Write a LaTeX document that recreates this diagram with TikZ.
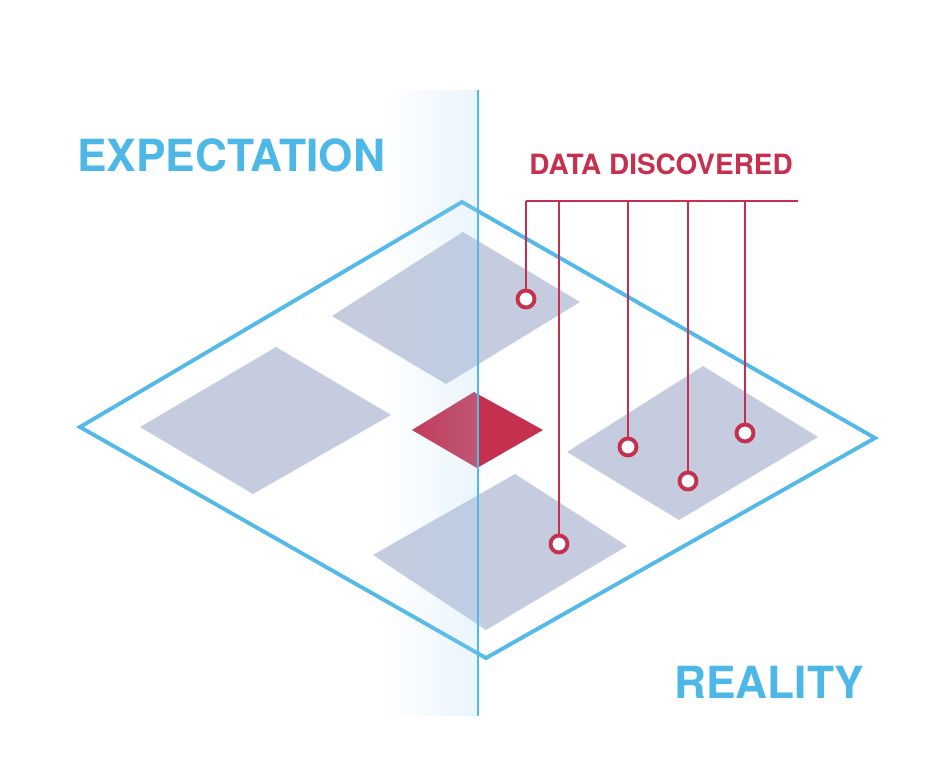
\documentclass[tikz,border=0pt]{standalone}
\usepackage{fontspec}
\newfontfamily\labelfont{TeX Gyre Heros}
\usepackage{tikz}
\usetikzlibrary{positioning, fadings}

\definecolor{skyline}{HTML}{52B9E8}
\definecolor{skytext}{HTML}{4DB8E8}
\definecolor{datared}{HTML}{C5304F}
\definecolor{tilegray}{HTML}{C5CCDF}
\definecolor{veilblue}{HTML}{A8D5F0}

\tikzfading[name=veilfade, left color=transparent!100, right color=transparent!0]

\begin{document}
\begin{tikzpicture}[
        x=0.02cm, y=-0.02cm,
        title/.style={inner sep=0pt, anchor=base west, text=skytext, font=\labelfont\bfseries\fontsize{25.2}{30}\selectfont},
        tile/.style={fill=tilegray},
        probe/.style={circle, draw=datared, line width=2.2pt, fill=white, minimum size=0.34cm, inner sep=0pt},
        wire/.style={draw=datared, line width=1.6pt}
        ]
        \useasboundingbox (0,0) rectangle (946,780);

        % board and tiles
        \draw[skyline, line width=2.2pt, line join=miter] (462,202) -- (875,438) -- (486,658) -- (80,427) -- cycle;
        \fill[tile] (463,232) -- (580,302) -- (446,384) -- (332,316) -- cycle;
        \fill[tile] (276,347) -- (391,415) -- (253,494) -- (140,427) -- cycle;
        \fill[tile] (515,474) -- (627,546) -- (486,630) -- (373,555) -- cycle;
        \fill[tile] (703,366) -- (818,437) -- (679,520) -- (567,452) -- cycle;
        \fill[datared] (474,392) -- (543,430) -- (477,468) -- (412,430) -- cycle;

        % labels
        \node[title] (expect) at (77,172) {EXPECTATION};
        \node[title] (reality) at (674,698) {REALITY};
        \node[inner sep=0pt, anchor=base west, text=datared, font=\labelfont\bfseries\fontsize{15.9}{19}\selectfont] (found) at (529,175) {DATA DISCOVERED};

        % probes
        \coordinate (t1) at (526,201);
        \coordinate (t2) at (559,201);
        \coordinate (t3) at (628,201);
        \coordinate (t4) at (688,201);
        \coordinate (t5) at (745,201);
        \coordinate (tend) at (798,201);
        \draw[wire] (t1) -- (tend);
        \foreach \i/\px/\py in {1/526/299, 2/559/544, 3/628/447, 4/688/481, 5/745/433}
            \draw[wire] (t\i) -- (\px,\py) node[probe] (p\i) {};

        % veil and divider
        \fill[veilblue, opacity=0.24, path fading=veilfade] (380,90) rectangle (478,716);
        \coordinate (vtop) at (478,90);
        \coordinate (vbot) at (478,716);
        \draw[skyline, line width=1.1pt] (vtop) -- (vbot);
    \end{tikzpicture}
\end{document}
